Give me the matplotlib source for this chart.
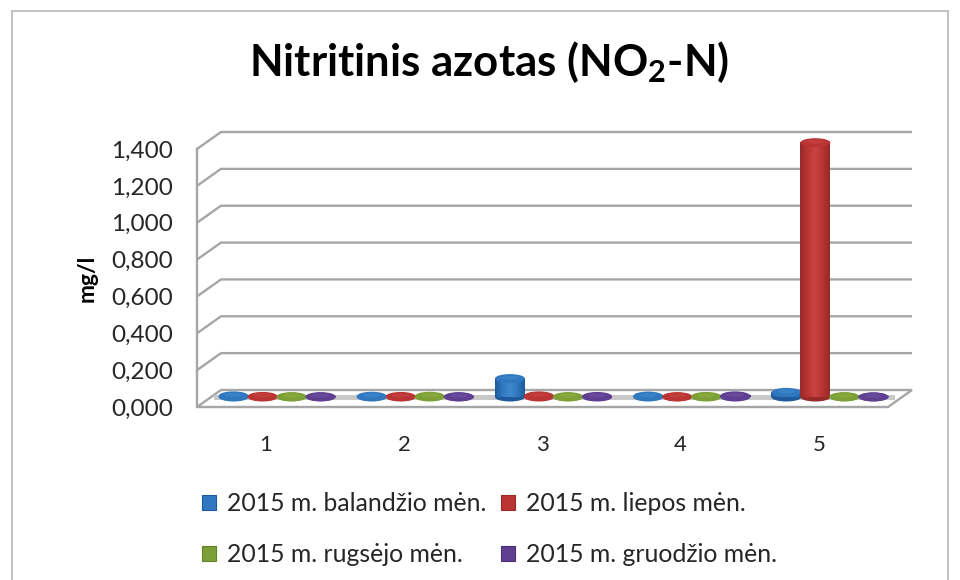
import matplotlib
matplotlib.use('Agg')
import matplotlib.pyplot as plt
import numpy as np
from matplotlib.colors import LinearSegmentedColormap
from matplotlib.patches import Ellipse, Patch, Polygon, Rectangle

plt.rcParams['font.family'] = ['Lato', 'DejaVu Sans']
plt.rcParams['mathtext.default'] = 'regular'

categories = [1, 2, 3, 4, 5]
balandzio = [0.006, 0.004, 0.100, 0.005, 0.025]
liepos = [0.003, 0.003, 0.006, 0.002, 1.380]
rugsejo = [0.002, 0.004, 0.002, 0.003, 0.002]
gruodzio = [0.002, 0.002, 0.003, 0.006, 0.001]
y_ticks = [0, 0.2, 0.4, 0.6, 0.8, 1.0, 1.2, 1.4]
y_labels = ['0,000', '0,200', '0,400', '0,600', '0,800', '1,000', '1,200', '1,400']

series = [
    ('2015 m. balandžio mėn.', balandzio, '#1d5a9c', '#2f78bf', '#4089cf'),
    ('2015 m. liepos mėn.', liepos, '#962a28', '#b93432', '#c94543'),
    ('2015 m. rugsėjo mėn.', rugsejo, '#638226', '#7c9f36', '#8eb045'),
    ('2015 m. gruodžio mėn.', gruodzio, '#472d75', '#5f3f92', '#6f50a3'),
]

W, H = 960, 580
fig = plt.figure(figsize=(W / 100, H / 100), dpi=100, facecolor='white')
ax = fig.add_axes([197 / W, 1 - 407 / H, (888 - 197) / W, (407 - 149) / H])
xmin, xmax = 0.5, 5.5
ymin, ymax = 0, 1.4
px_x = (xmax - xmin) / 691
px_y = (ymax - ymin) / 258
# depth of the fake 3d box, and of the plane the bars stand on
DX, DY = 24 * px_x, 17 * px_y
BX, BY = 11 * px_x, 10 * px_y
wall = '#a6a6a6'
wall_lw = 1.7

# outer frame of the picture
fig.add_artist(Rectangle((12 / W, -0.02), 936 / W, 1.02 - 11 / H, transform=fig.transFigure,
                         fill=False, ec='#bdbdbd', lw=1.3))

# floor
ax.add_patch(Polygon([(xmin, 0), (xmax, 0), (xmax + DX, DY), (xmin + DX, DY)], closed=True,
                     fc='white', ec=wall, lw=wall_lw, clip_on=False, zorder=1))
ax.fill_between([xmin + 0.7 * DX, xmax + 0.3 * DX], BY - 3 * px_y, BY + 2 * px_y,
                color='#c8c8c8', lw=0, clip_on=False, zorder=1.1)

# walls and grid
for v in y_ticks[1:]:
    ax.plot([xmin, xmin + DX, xmax + DX], [v, v + DY, v + DY], color=wall, lw=wall_lw,
            clip_on=False, zorder=1, solid_capstyle='butt')
ax.plot([xmin, xmin], [0, ymax], color=wall, lw=wall_lw, clip_on=False, zorder=1)

# cylinders, left to right so later ones sit on top
bar_w = 30 * px_x
off = [-1.5, -0.5, 0.5, 1.5]
z = 2
shade = np.linspace(0, 1, 64).reshape(1, -1)
for i, c in enumerate(categories):
    for j, (name, vals, dark, mid, light) in enumerate(series):
        x = c + BX + off[j] * 0.21
        top = vals[i] + BY
        cm = LinearSegmentedColormap.from_list('c', [dark, mid, light, mid, dark])
        e_h = 9 * px_y
        ax.add_patch(Ellipse((x, BY), bar_w, e_h, fc=dark if vals[i] > 0.02 else mid, ec='none',
                             clip_on=False, zorder=z))
        ax.bar(x, vals[i], bar_w, bottom=BY, color=mid, lw=0, clip_on=False, zorder=z + 0.1)
        ax.imshow(shade, extent=[x - bar_w / 2, x + bar_w / 2, BY, top], aspect='auto',
                  cmap=cm, zorder=z + 0.2, clip_on=False)
        ax.add_patch(Ellipse((x, top), bar_w, e_h, fc=mid, ec='none', clip_on=False, zorder=z + 0.3))
        ax.add_patch(Ellipse((x, top + 1 * px_y), bar_w * 0.6, e_h * 0.45, fc=light, ec='none',
                             alpha=0.6, clip_on=False, zorder=z + 0.4))
        z += 1

ax.set_xlim(xmin, xmax)
ax.set_ylim(ymin, ymax)
for s in ax.spines.values():
    s.set_visible(False)
ax.patch.set_alpha(0)
ax.set_xticks(categories)
ax.set_xticklabels([str(c) for c in categories])
ax.set_yticks(y_ticks)
ax.set_yticklabels(y_labels)
ax.tick_params(axis='x', length=0, pad=20, labelsize=16, labelcolor='#262626')
ax.tick_params(axis='y', length=0, pad=17, labelsize=17.5, labelcolor='#262626')

fig.text(489 / W, 1 - 62 / H, 'Nitritinis azotas (NO$_{2}$-N)', ha='center', va='center',
         fontsize=31.5, fontweight='bold', color='black')
fig.text(87 / W, 1 - 278 / H, 'mg/l', rotation=90, ha='center', va='center',
         fontsize=16.5, fontweight='bold', color='black')

# legend fills column by column
order = [0, 2, 1, 3]
handles = [Patch(fc=series[k][3], ec=series[k][2], lw=0.8) for k in order]
labels = [series[k][0] for k in order]
fig.legend(handles, labels, ncols=2, loc='center left', bbox_to_anchor=(180 / W, 1 - 529 / H),
           frameon=False, fontsize=17.8, labelcolor='#262626', handlelength=0.55, handleheight=0.55,
           handletextpad=0.45, columnspacing=0.6, labelspacing=1.12)

fig.savefig('out.png', dpi=100)
